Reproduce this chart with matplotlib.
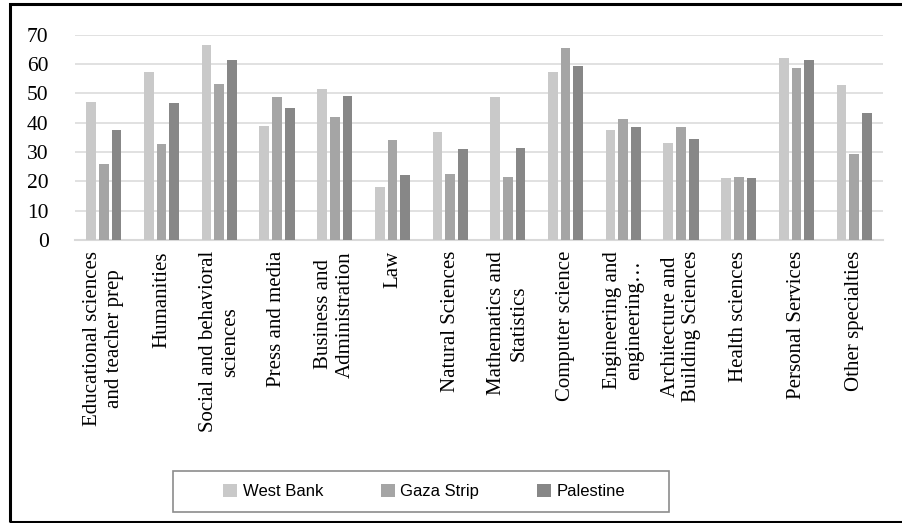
import numpy as np
import matplotlib
matplotlib.use("Agg")
import matplotlib.pyplot as plt
from matplotlib.patches import Patch, Rectangle

# categories and series
categories = [
    "Educational sciences\nand teacher prep",
    "Humanities",
    "Social and behavioral\nsciences",
    "Press and media",
    "Business and\nAdministration",
    "Law",
    "Natural Sciences",
    "Mathematics and\nStatistics",
    "Computer science",
    "Engineering and\nengineering\u2026",
    "Architecture and\nBuilding Sciences",
    "Health sciences",
    "Personal Services",
    "Other specialties",
]
west_bank = [47.0, 57.3, 66.4, 38.9, 51.5, 18.0, 36.7, 48.7, 57.3, 37.5, 33.0, 21.1, 62.0, 52.8]
gaza_strip = [25.9, 32.7, 53.2, 48.6, 42.0, 34.2, 22.5, 21.4, 65.6, 41.2, 38.6, 21.5, 58.6, 29.4]
palestine = [37.6, 46.7, 61.4, 44.9, 49.1, 22.2, 31.0, 31.5, 59.3, 38.5, 34.3, 21.2, 61.2, 43.4]
series_names = ["West Bank", "Gaza Strip", "Palestine"]
y_ticks = [0, 10, 20, 30, 40, 50, 60, 70]

colors = ["#c9c9c9", "#a5a5a5", "#878787"]

fig = plt.figure(figsize=(9.02, 5.23), dpi=100)
ax = fig.add_axes([0.0831, 0.5411, 0.8959, 0.3926])

x = np.arange(len(categories))
width = 0.168
step = 0.22
for k, (vals, col) in enumerate(zip([west_bank, gaza_strip, palestine], colors)):
    ax.bar(x + (k - 1) * step, vals, width=width, color=col, zorder=3)

ax.set_xlim(-0.5, len(categories) - 0.5)
ax.set_ylim(0, 70)
ax.set_yticks(y_ticks)
ax.set_yticklabels([str(v) for v in y_ticks], family="Liberation Serif", fontsize=15.5)
ax.set_xticks(x)
ax.set_xticklabels(categories, rotation=90, family="Liberation Serif", fontsize=15,
                   ha="center", va="top", linespacing=1.2, multialignment="center")
ax.tick_params(axis="y", length=0, pad=19)
ax.tick_params(axis="x", length=0, pad=8)

ax.grid(axis="y", color="#d9d9d9", linewidth=1.1, zorder=0)
for side in ["left", "right", "top"]:
    ax.spines[side].set_visible(False)
ax.spines["bottom"].set_color("#d9d9d9")
ax.spines["bottom"].set_linewidth(1.5)

# legend with its own frame
handles = [Patch(facecolor=c, edgecolor="none") for c in colors]
fig.legend(handles, series_names, loc="center", bbox_to_anchor=(0.4700, 0.0602),
           ncol=3, frameon=False, prop={"family": "Liberation Sans", "size": 12},
           handlelength=0.84, handleheight=0.84, handletextpad=0.34, columnspacing=3.45)
fig.patches.append(Rectangle((173 / 902, 1 - 512 / 523), (669 - 173) / 902, 41 / 523,
                             transform=fig.transFigure, fill=False,
                             edgecolor="#8c8c8c", linewidth=1.2))

# outer black frame (right edge cut off in the original)
fig.patches.append(Rectangle((9.5 / 902, 1 / 523), 1.02, 1 - 5 / 523,
                             transform=fig.transFigure, fill=False,
                             edgecolor="black", linewidth=2.2, clip_on=False))

fig.savefig("out.png", dpi=100)
